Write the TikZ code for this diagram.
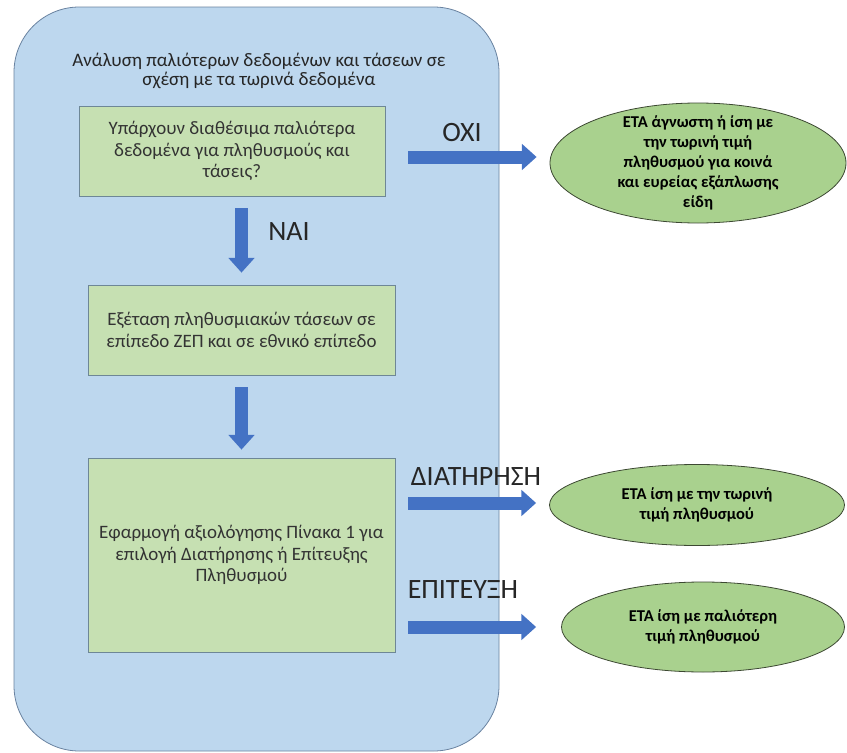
\documentclass[tikz,border=0pt]{standalone}
\usepackage{fontspec}
\setmainfont{Carlito}
\usetikzlibrary{arrows.meta,shapes.geometric}

\definecolor{panelblue}{HTML}{BDD7EE}
\definecolor{panelline}{RGB}{105,130,160}
\definecolor{stagegreen}{RGB}{198,224,178}
\definecolor{stageline}{RGB}{110,135,150}
\definecolor{outgreen}{HTML}{A9D18E}
\definecolor{outline}{RGB}{60,72,50}
\definecolor{flowblue}{HTML}{4472C4}

\begin{document}
\begin{tikzpicture}[x=0.75pt,y=-0.75pt,
        panel/.style = {draw=panelline, fill=panelblue, line width=0.6pt,
            rounded corners=49pt, inner sep=0pt,
            minimum width=363.75pt, minimum height=558pt},
        stage/.style = {draw=stageline, fill=stagegreen, line width=0.6pt,
            align=center, inner sep=0pt, text=black!80,
            font=\fontsize{14.2}{16}\selectfont,
            minimum width=230.25pt, minimum height=67.5pt},
        outcome/.style = {ellipse, draw=outline, fill=outgreen,
            line width=0.6pt, inner sep=0pt},
        outtext/.style = {align=center, inner sep=0pt,
            font=\bfseries\fontsize{12.4}{15}\selectfont},
        answer/.style = {inner sep=0pt, text=black!85,
            font=\fontsize{21}{23}\selectfont},
        flow/.style = {draw=flowblue, line width=9.75pt,
            -{Triangle[length=11pt,width=19pt]}}]

    \useasboundingbox (0,0) rectangle (847,753);

    % Background panel
    \node[panel] (panel) at (256.5,379) {};
    \node[align=center, inner sep=0pt, text=black!85,
        font=\fontsize{14.3}{13.8}\selectfont] (title) at (259,71)
        {Ανάλυση παλιότερων δεδομένων και τάσεων σε\\
         σχέση με τα τωρινά δεδομένα};

    % Steps
    \node[stage, minimum width=229.5pt] (avail) at (232,151)
        {Υπάρχουν διαθέσιμα παλιότερα\\ δεδομένα για πληθυσμούς και\\ τάσεις?};
    \node[stage] (trend) at (241.5,330)
        {Εξέταση πληθυσμιακών τάσεων σε\\ επίπεδο ΖΕΠ και σε εθνικό επίπεδο};
    \node[stage, minimum height=145.5pt] (assess) at (241.5,555)
        {Εφαρμογή αξιολόγησης Πίνακα 1 για\\ επιλογή Διατήρησης ή Επίτευξης\\ Πληθυσμού};

    % Outcomes
    \node[outcome, minimum width=222pt, minimum height=90pt] (unknown) at (698,163) {};
    \node[outtext] (unknowntxt) at (unknown)
        {ΕΤΑ άγνωστη ή ίση με\\ την τωρινή τιμή\\ πληθυσμού για κοινά\\ και ευρείας εξάπλωσης\\ είδη};
    \node[outcome, minimum width=221.25pt, minimum height=60.75pt] (current) at (697,505) {};
    \node[outtext] (currenttxt) at (current)
        {ΕΤΑ ίση με την τωρινή\\ τιμή πληθυσμού};
    \node[outcome, minimum width=212.25pt, minimum height=67.5pt] (older) at (703,627) {};
    \node[outtext] (oldertxt) at (older)
        {ΕΤΑ ίση με παλιότερη\\ τιμή πληθυσμού};

    % Arrows
    \path (avail.south -| trend.north) ++(0,12) coordinate (yesS);
    \coordinate (noS) at (408,157);
    \coordinate (keepS) at (408,503);
    \coordinate (reachS) at (408,627);
    \draw[flow] (yesS) -- ([yshift=9pt]trend.north);
    \draw[flow] ([yshift=-9pt]trend.south) -- ([yshift=6pt]assess.north);
    \draw[flow, shorten >=9.75pt] (noS) -- (noS -| unknown.west);
    \draw[flow, shorten >=9.75pt] (keepS) -- (keepS -| current.west);
    \draw[flow, shorten >=18.75pt] (reachS) -- (reachS -| older.west);

    % Answers
    \node[answer] (nai) at (289,232) {ΝΑΙ};
    \node[answer] (oxi) at (462,133) {ΟΧΙ};
    \node[answer] (keep) at (476,477) {ΔΙΑΤΗΡΗΣΗ};
    \node[answer] (reach) at (463,590) {ΕΠΙΤΕΥΞΗ};

\end{tikzpicture}
\end{document}
